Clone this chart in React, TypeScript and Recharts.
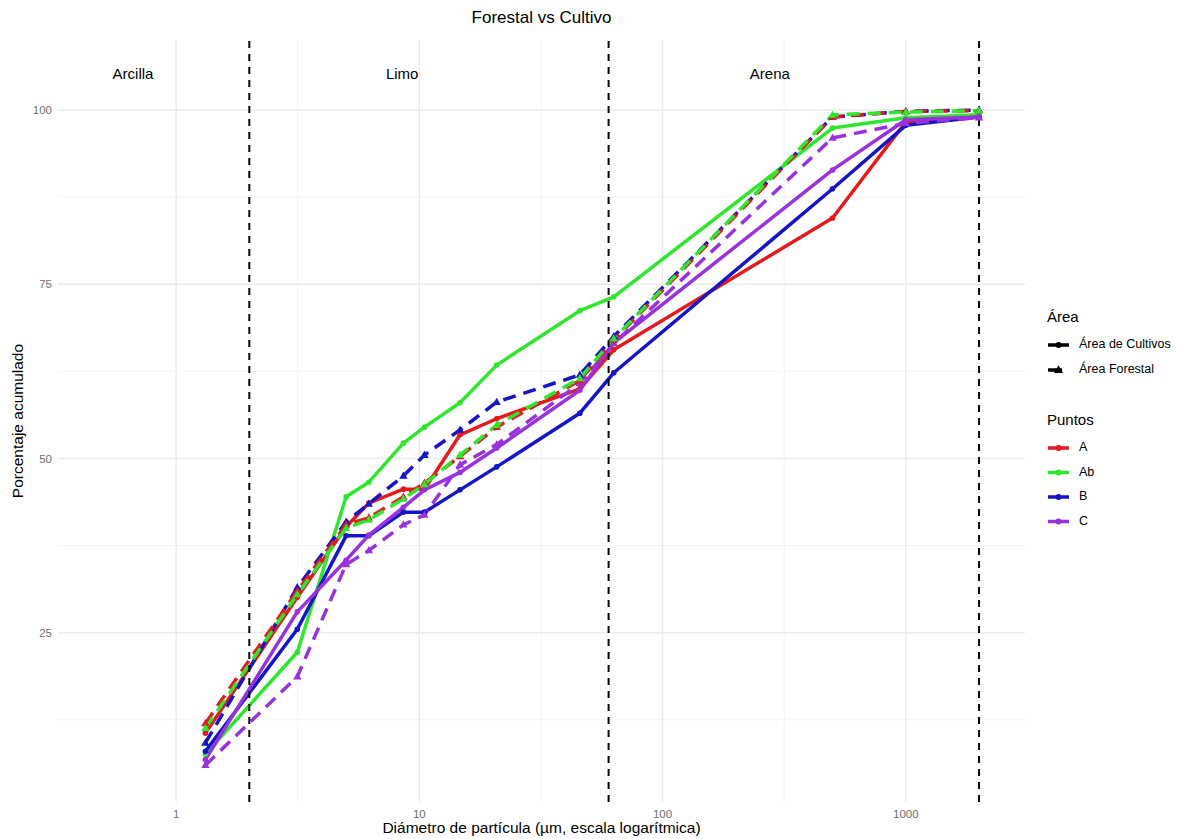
import React from 'react';
import { LineChart, Line, XAxis, YAxis, CartesianGrid, ReferenceLine, ReferenceDot } from 'recharts';

// Diámetros de partícula (µm) en los que se midió cada curva
const diametros = [1.32, 3.15, 5, 6.2, 8.6, 10.5, 14.7, 20.8, 45.7, 63, 500, 1000, 2000];

// Porcentaje acumulado – Área de Cultivos
const cultivosA = [10.6, 30.1, 40.2, 43.6, 45.6, 45.6, 53.4, 55.7, 60.0, 65.6, 84.5, 98.3, 99.0];
const cultivosAb = [7.6, 22.2, 44.5, 46.6, 52.2, 54.5, 58.0, 63.4, 71.2, 73.2, 97.4, 98.9, 99.3];
const cultivosB = [8.0, 25.5, 38.9, 38.9, 42.3, 42.3, 45.5, 48.8, 56.5, 62.3, 88.7, 97.8, 99.0];
const cultivosC = [6.8, 28.0, 35.4, 39.0, 43.0, 45.5, 48.0, 51.5, 59.8, 66.6, 91.4, 98.6, 99.0];

// Porcentaje acumulado – Área Forestal
const forestalA = [12.0, 31.0, 40.5, 41.5, 44.5, 46.5, 50.3, 54.5, 61.2, 67.0, 99.0, 99.8, 99.9];
const forestalAb = [11.3, 30.5, 40.0, 41.2, 44.2, 46.3, 50.5, 54.8, 61.5, 67.2, 99.3, 99.7, 99.9];
const forestalB = [9.2, 31.5, 40.9, 43.5, 47.5, 50.5, 54.1, 58.1, 62.0, 67.5, 99.0, 99.8, 100.0];
const forestalC = [6.0, 18.7, 34.8, 36.8, 40.5, 41.9, 49.1, 52.0, 60.8, 66.5, 96.0, 98.1, 98.9];

// Límites de textura (µm) y rótulos de cada fracción
const limitesTextura = [2, 60, 2000];
const zonas = ['Arcilla', 'Limo', 'Arena'];
const zonasX = [0.665, 8.5, 276];
const zonaY = 105;

const xTicks = [1, 10, 100, 1000];
const xMinor = [3.162, 31.62, 316.2];
const yTicks = [25, 50, 75, 100];
const yMinor = [12.5, 37.5, 62.5, 87.5];

const colores: Record<string, string> = {
  A: '#E41A1C',
  Ab: '#2EE62E',
  B: '#1414C8',
  C: '#9932DC',
};

const FONT = '"Liberation Sans", Arial, sans-serif';
const GROSOR = 3.5;

const serie = (valores: number[]) => diametros.map((d, i) => ({ d, v: valores[i] }));

const circulo = (color: string) => (props: any) => (
  <circle key={`c-${props.index}`} cx={props.cx} cy={props.cy} r={2.8} fill={color} />
);

const triangulo = (color: string) => (props: any) => {
  const { cx, cy } = props;
  const s = 4.4;
  return (
    <polygon
      key={`t-${props.index}`}
      points={`${cx},${cy - s} ${cx - s * 0.95},${cy + s * 0.65} ${cx + s * 0.95},${cy + s * 0.65}`}
      fill={color}
    />
  );
};

const lineasCultivos = [
  { p: 'A', valores: cultivosA },
  { p: 'Ab', valores: cultivosAb },
  { p: 'B', valores: cultivosB },
  { p: 'C', valores: cultivosC },
];

const lineasForestal = [
  { p: 'C', valores: forestalC },
  { p: 'B', valores: forestalB },
  { p: 'A', valores: forestalA },
  { p: 'Ab', valores: forestalAb },
];

const Leyenda = () => (
  <svg
    width={140}
    height={240}
    style={{ position: 'absolute', left: 1040, top: 300, fontFamily: FONT, overflow: 'visible' }}
  >
    <text x={7} y={18} fontSize={15} dominantBaseline="middle" fill="#000">Área</text>
    <line x1={8} x2={29} y1={45} y2={45} stroke="#000" strokeWidth={GROSOR} />
    <circle cx={18.5} cy={45} r={3} fill="#000" />
    <text x={39} y={45} fontSize={12.5} dominantBaseline="middle" fill="#000">Área de Cultivos</text>
    <line x1={8} x2={22} y1={70} y2={70} stroke="#000" strokeWidth={GROSOR} />
    <polygon points="18.5,65.3 14,72.9 23,72.9" fill="#000" />
    <text x={39} y={70} fontSize={12.5} dominantBaseline="middle" fill="#000">Área Forestal</text>

    <text x={7} y={121} fontSize={15} dominantBaseline="middle" fill="#000">Puntos</text>
    {['A', 'Ab', 'B', 'C'].map((p, i) => {
      const y = 148 + i * 24.5;
      return (
        <g key={p}>
          <line x1={8} x2={29} y1={y} y2={y} stroke={colores[p]} strokeWidth={GROSOR} />
          <circle cx={18.5} cy={y} r={3} fill={colores[p]} />
          <text x={39} y={y} fontSize={12.5} dominantBaseline="middle" fill="#000">{p}</text>
        </g>
      );
    })}
  </svg>
);

export default function App() {
  return (
    <div
      style={{
        position: 'absolute',
        left: 0,
        top: 0,
        width: 1181,
        height: 839,
        background: '#fff',
        fontFamily: FONT,
        overflow: 'hidden',
      }}
    >
      <div
        style={{
          position: 'absolute',
          left: 0,
          width: 1083,
          top: 8,
          textAlign: 'center',
          fontSize: 17,
          color: '#000',
        }}
      >
        Forestal vs Cultivo
      </div>

      <LineChart width={1181} height={839} margin={{ top: 40, right: 156, bottom: 0, left: 0 }}>
        <CartesianGrid
          stroke="#F2F2F2"
          strokeWidth={0.9}
          horizontalValues={yMinor}
          verticalValues={xMinor}
        />
        <CartesianGrid
          stroke="#EBEBEB"
          strokeWidth={1.4}
          horizontalValues={yTicks}
          verticalValues={xTicks}
        />
        <XAxis
          type="number"
          dataKey="d"
          scale="log"
          domain={[0.327, 3090]}
          allowDataOverflow
          ticks={xTicks}
          tickLine={false}
          axisLine={false}
          tickSize={0}
          tickMargin={8}
          height={37}
          tick={{ fill: '#707070', fontSize: 11.5, fontFamily: FONT }}
        />
        <YAxis
          type="number"
          domain={[0.72, 110.04]}
          allowDataOverflow
          ticks={yTicks}
          tickLine={false}
          axisLine={false}
          tickSize={0}
          tickMargin={6}
          width={58}
          tick={{ fill: '#707070', fontSize: 11.5, fontFamily: FONT }}
        />

        {lineasCultivos.map(({ p, valores }) => (
          <Line
            key={`cult-${p}`}
            data={serie(valores)}
            dataKey="v"
            type="linear"
            stroke={colores[p]}
            strokeWidth={GROSOR}
            strokeLinejoin="round"
            dot={circulo(colores[p])}
            activeDot={false}
            isAnimationActive={false}
          />
        ))}
        {lineasForestal.map(({ p, valores }) => (
          <Line
            key={`for-${p}`}
            data={serie(valores)}
            dataKey="v"
            type="linear"
            stroke={colores[p]}
            strokeWidth={GROSOR}
            strokeDasharray="13 8"
            strokeLinejoin="round"
            dot={triangulo(colores[p])}
            activeDot={false}
            isAnimationActive={false}
          />
        ))}

        {limitesTextura.map((x) => (
          <ReferenceLine key={`lim-${x}`} x={x} stroke="#000" strokeWidth={2} strokeDasharray="7 6" />
        ))}

        {zonas.map((z, i) => (
          <ReferenceDot
            key={z}
            x={zonasX[i]}
            y={zonaY}
            r={0}
            shape={(props: any) => (
              <text
                x={props.cx}
                y={props.cy}
                textAnchor="middle"
                dominantBaseline="middle"
                fontSize={15}
                fontFamily={FONT}
                fill="#000"
              >
                {z}
              </text>
            )}
          />
        ))}
      </LineChart>

      <div
        style={{
          position: 'absolute',
          left: 0,
          width: 1083,
          top: 819,
          textAlign: 'center',
          fontSize: 15.5,
          color: '#000',
        }}
      >
        Diámetro de partícula (µm, escala logarítmica)
      </div>

      <div
        style={{
          position: 'absolute',
          left: 18,
          top: 421,
          transform: 'translate(-50%, -50%) rotate(-90deg)',
          whiteSpace: 'nowrap',
          fontSize: 15.5,
          color: '#000',
        }}
      >
        Porcentaje acumulado
      </div>

      <Leyenda />
    </div>
  );
}
